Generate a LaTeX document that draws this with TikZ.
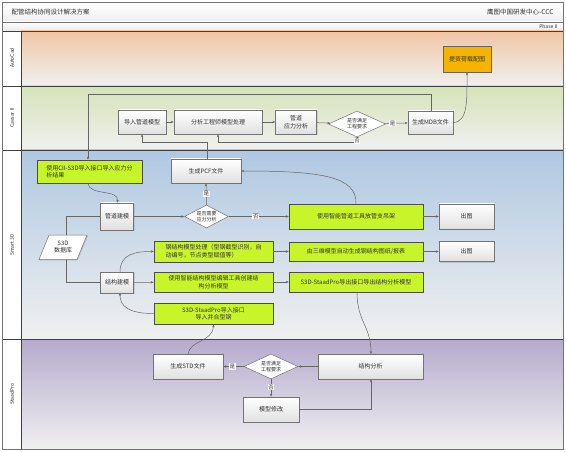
\documentclass[tikz,border=0pt]{standalone}
\usepackage{fontspec}
\setmainfont{Noto Sans CJK SC}
\usetikzlibrary{shapes.geometric,arrows.meta,shadows}
\definecolor{lgreen}{HTML}{C8F52A}
\definecolor{orangebox}{HTML}{F5B400}
\definecolor{txt}{HTML}{333333}
\definecolor{lanepeach}{HTML}{F0C6A4}
\definecolor{lanegreen}{HTML}{D6E3B8}
\definecolor{laneblue}{HTML}{AFC8E2}
\definecolor{lanepurple}{HTML}{B5AACD}
\definecolor{lanebot}{HTML}{F0F0F0}
\begin{document}
\begin{tikzpicture}[x=1pt,y=-1pt,
  font=\fontsize{6}{7.5}\selectfont, text=txt,
  wbox/.style={draw=black!55, line width=0.5pt, top color=white, bottom color=black!12,
    drop shadow={opacity=0.25, shadow xshift=1pt, shadow yshift=-1pt},
    inner sep=1pt, align=center},
  gbox/.style={draw=black!70, line width=0.5pt, fill=lgreen, inner sep=1.5pt, align=center,
    drop shadow={opacity=0.2, shadow xshift=1pt, shadow yshift=-1pt}},
  dbox/.style={diamond, aspect=2.3, draw=black!55, line width=0.5pt, fill=white,
    inner sep=0pt, align=center, font=\fontsize{5}{6}\selectfont},
  conn/.style={draw=black!60, line width=0.5pt, -{Stealth[length=3pt,width=2.4pt]}},
  plain/.style={draw=black!60, line width=0.5pt},
  lbl/.style={fill=white, inner sep=0.6pt, font=\fontsize{5.5}{6}\selectfont},
  lanelbl/.style={rotate=90, font=\fontsize{5}{6}\selectfont},
  lanesep/.style={draw=black!75, line width=0.7pt}
]
\useasboundingbox (0,0) rectangle (566,452);
\fill[white] (0,0) rectangle (566,452);

% header
\fill[top color=white, bottom color=black!6] (2.5,2.5) rectangle (563.5,22);
\fill[top color=white, bottom color=black!8] (2.5,22) rectangle (563.5,31);
\node[anchor=west, font=\fontsize{6.5}{7}\selectfont] (title) at (8,12) {配管结构协同设计解决方案};
\node[anchor=east, font=\fontsize{6.5}{7}\selectfont] (org) at (557,12) {鹰图中国研发中心-CCC};
\node[anchor=east, font=\fontsize{5}{6}\selectfont] (phase) at (561,27) {Phase II};

% lanes
\fill[top color=lanepeach, bottom color=lanebot] (21,31) rectangle (563.5,86);
\fill[top color=lanegreen, bottom color=lanebot] (21,86) rectangle (563.5,150);
\fill[top color=laneblue, bottom color=lanebot] (21,150) rectangle (563.5,339);
\fill[top color=lanepurple, bottom color=lanebot] (21,339) rectangle (563.5,449.5);
\draw[black!55, line width=0.7pt] (2.5,22) -- (563.5,22);
\draw[lanesep] (2.5,31) -- (563.5,31);
\draw[lanesep] (2.5,86) -- (563.5,86);
\draw[lanesep] (2.5,150) -- (563.5,150);
\draw[lanesep] (2.5,339) -- (563.5,339);
\draw[lanesep] (21,31) -- (21,449.5);
\draw[black!55, line width=0.6pt] (2.5,2.5) rectangle (563.5,449.5);

\node[lanelbl] (l1) at (12,58) {AutoCad};
\node[lanelbl] (l2) at (12,118) {Caesar II};
\node[lanelbl] (l3) at (12,245) {Smart 3D};
\node[lanelbl] (l4) at (12,394) {StaadPro};

% AutoCAD
\node[draw=black!60, line width=0.5pt, fill=orangebox, minimum width=48pt, minimum height=26pt, inner sep=1pt,
  drop shadow={opacity=0.25, shadow xshift=1pt, shadow yshift=-1pt}] (tz) at (467,59) {提资荷载配图};

% Caesar II
\node[wbox, minimum width=48pt, minimum height=24pt] (dr) at (142,122) {导入管道模型};
\node[wbox, minimum width=88pt, minimum height=24pt] (fx) at (218,122) {分析工程师模型处理};
\node[wbox, minimum width=41pt, minimum height=24pt] (yl) at (296,122) {管道\\应力分析};
\node[dbox, minimum width=57pt, minimum height=26pt] (d1) at (357,124) {是否满足\\工程要求};
\node[wbox, minimum width=45pt, minimum height=23pt] (mdb) at (430.5,122.5) {生成MDB文件};

% Smart 3D
\node[gbox, minimum width=105pt, minimum height=23pt, align=left] (cii) at (89.5,171.5) {使用CII-S3D导入接口导入应力分\\析结果};
\node[wbox, minimum width=70pt, minimum height=24pt] (pcf) at (206,171) {生成PCF文件};
\node[wbox, minimum width=33pt, minimum height=27pt] (gj) at (117,216.5) {管道建模};
\node[dbox, minimum width=43pt, minimum height=23pt] (d2) at (206.5,216.5) {是否需要\\应力分析};
\node[gbox, minimum width=134pt, minimum height=25pt] (zj) at (356,216.5) {使用智能管道工具放管支吊架};
\node[wbox, minimum width=55pt, minimum height=25pt] (ct1) at (466.5,216.5) {出图};

\node[inner sep=0pt, align=center] (db) at (63,247) {S3D\\数据库};
\draw[draw=black!55, line width=0.5pt, fill=white, drop shadow={opacity=0.25, shadow xshift=1pt, shadow yshift=-1pt}]
  (49,235) -- (87,235) -- (77,259.5) -- (39,259.5) -- cycle;
\node[inner sep=0pt, align=center] at (63,247) {S3D\\数据库};

\node[wbox, minimum width=33pt, minimum height=21pt] (jg) at (117,282.5) {结构建模};
\node[gbox, minimum width=119pt, minimum height=21pt, align=left] (gjg) at (213.5,251.5) {钢结构模型处理（型钢截型识别，自\\动编号，节点类型赋值等）};
\node[gbox, minimum width=119pt, minimum height=20pt] (zn) at (213.5,282) {使用智能结构模型编辑工具创建结\\构分析模型};
\node[gbox, minimum width=119pt, minimum height=21pt] (dr2) at (213.5,313.5) {S3D-StaadPro导入接口\\导入并合型钢};
\node[gbox, minimum width=134pt, minimum height=19pt] (zd) at (356,251.5) {由三维模型自动生成钢结构图纸/报表};
\node[wbox, minimum width=55pt, minimum height=20pt] (ct2) at (466.5,251.5) {出图};
\node[gbox, minimum width=134pt, minimum height=20pt] (dc) at (356,282) {S3D-StaadPro导出接口导出结构分析模型};

% StaadPro
\node[wbox, minimum width=70pt, minimum height=25pt] (std) at (188,366.5) {生成STD文件};
\node[dbox, minimum width=54pt, minimum height=25pt] (d3) at (271,366.5) {是否满足\\工程要求};
\node[wbox, minimum width=105pt, minimum height=25pt] (fx2) at (370.5,366.5) {结构分析};
\node[wbox, minimum width=56pt, minimum height=25pt] (xg) at (271,409.5) {模型修改};

% --- connectors: Caesar II
\draw[conn] (dr) -- (fx);
\draw[conn] (fx) -- (yl);
\draw[conn] (yl) -- (d1);
\draw[conn] (d1) -- node[lbl, pos=0.35] {是} (mdb);
\coordinate (c1) at (357,142);
\draw[conn] (d1.south) -- (c1) -| (fx.south);
\node[lbl] (no1) at (357,141) {否};
\draw[conn] (mdb.east) .. controls (468,122) and (467,100) .. (tz.south);
\coordinate (c2) at (431,94);
\coordinate (c3) at (88,94);
\draw[conn] (mdb.north -| c2) -- (c2) -- (c3) -- (c3 |- cii.north);
\coordinate (c4) at (207,142);
\draw[conn] (pcf.north -| c4) -- (c4) -| (dr.south);

% --- Smart 3D
\draw[conn] (88,183) .. controls (88,196) and (120,189) .. (gj.north);
\draw[conn] (gj) -- (d2);
\draw[conn] (d2.north) -- node[lbl] {是} (pcf.south);
\draw[conn] (d2) -- node[lbl, pos=0.45] {否} (zj);
\draw[conn] (zj.north) .. controls (357,176) and (320,171) .. (pcf.east);
\draw[conn] (zj) -- (ct1);
\coordinate (c5) at (66,216.5);
\coordinate (c6) at (66,282.5);
\draw[plain] (gj.west) -- (c5) -- (66,235);
\draw[plain] (66,259.5) -- (c6) -- (jg.west);
\draw[conn] (120,272) .. controls (120,254) and (135,251.5) .. (gjg.west);
\draw[conn] (jg) -- (zn);
\draw[conn] (dr2.west) .. controls (128,313.5) and (120,306) .. (120,293);
\draw[conn] (gjg) -- (zd);
\draw[conn] (zd) -- (ct2);
\draw[conn] (zn) -- (dc);
\draw[conn] (357,292) .. controls (357,322) and (371,326) .. (371,354);
\draw[conn] (188,354) .. controls (190,340) and (213,342) .. (dr2.south);

% --- StaadPro
\draw[conn] (fx2) -- (d3);
\draw[conn] (d3) -- node[lbl, pos=0.55] {是} (std);
\draw[conn] (d3) -- node[lbl, pos=0.45] {否} (xg);
\coordinate (c7) at (371,409.5);
\draw[conn] (xg.east) -- (c7) -- (fx2.south -| c7);
\end{tikzpicture}
\end{document}
